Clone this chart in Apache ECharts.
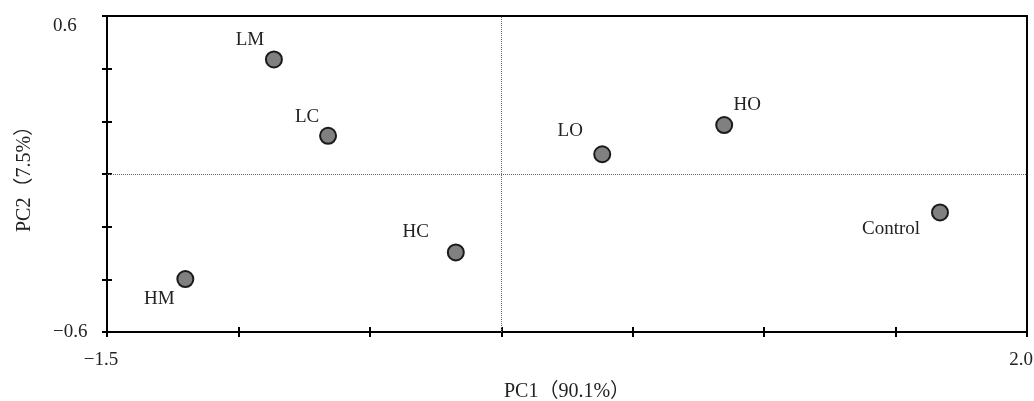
<!DOCTYPE html>
<html>
<head>
<meta charset="utf-8">
<script src="https://cdn.jsdelivr.net/npm/echarts@6/dist/echarts.min.js"></script>
<style>html,body{margin:0;padding:0;background:#fff;}#c{width:1034px;height:401px;}</style>
</head>
<body>
<div id="c"></div>
<script>
// Data
const samples = ['LM', 'LC', 'HM', 'HC', 'LO', 'HO', 'Control'];
const pc1 = [-0.865, -0.659, -1.202, -0.173, 0.384, 0.848, 1.669];
const pc2 = [0.435, 0.145, -0.399, -0.298, 0.075, 0.186, -0.146];
const xTickLabels = ['\u22121.5', '2.0'];
const yTickLabels = ['\u22120.6', '0.6'];
const xName = 'PC1\uFF0890.1%\uFF09';
const yName = 'PC2\uFF087.5%\uFF09';

// label placement (style)
const labelOffset = {
  LM: [-24, -19], LC: [-21, -19], HM: [-26, 20], HC: [-40, -20],
  LO: [-32, -23], HO: [23, -20], Control: [-49, 17]
};

const font = '"Liberation Serif", "Times New Roman", "Noto Sans CJK SC", serif';
const chart = echarts.init(document.getElementById('c'));

const points = samples.map((n, i) => ({
  name: n,
  value: [pc1[i], pc2[i]],
  label: { offset: labelOffset[n] }
}));

const xCommon = { type: 'value', min: -1.5, max: 2.0, interval: 0.5, splitLine: { show: false } };
const yCommon = { type: 'value', min: -0.6, max: 0.6, interval: 0.2, splitLine: { show: false } };

chart.setOption({
  animation: false,
  backgroundColor: '#fff',
  grid: { left: 107, right: 7, top: 16, bottom: 69, show: true, borderColor: '#000', borderWidth: 2,
          containLabel: false, outerBoundsMode: 'none' },
  xAxis: [
    Object.assign({}, xCommon, {
      position: 'bottom',
      name: xName, nameLocation: 'middle', nameGap: 50,
      nameTextStyle: { fontFamily: font, fontSize: 20, color: '#222' },
      axisLine: { show: true, onZero: false, lineStyle: { color: '#000', width: 2 } },
      axisTick: { show: true, inside: false, length: 5, lineStyle: { color: '#000', width: 2 } },
      axisLabel: {
        margin: 19, fontFamily: font, fontSize: 19, color: '#222', padding: [0, 12, 0, 0],
        formatter: v => (Math.abs(v - -1.5) < 1e-9 ? xTickLabels[0] : (Math.abs(v - 2.0) < 1e-9 ? xTickLabels[1] : ''))
      }
    }),
    Object.assign({}, xCommon, {
      position: 'bottom',
      axisLine: { show: false, onZero: false },
      axisTick: { show: true, inside: true, length: 5, lineStyle: { color: '#000', width: 2 } },
      axisLabel: { show: false }
    })
  ],
  yAxis: [
    Object.assign({}, yCommon, {
      position: 'left',
      name: yName, nameLocation: 'middle', nameGap: 72, nameRotate: 90,
      nameTextStyle: { fontFamily: font, fontSize: 20, color: '#222' },
      axisLine: { show: true, onZero: false, lineStyle: { color: '#000', width: 2 } },
      axisTick: { show: true, inside: false, length: 5, lineStyle: { color: '#000', width: 2 } },
      axisLabel: {
        margin: 54, align: 'left', fontFamily: font, fontSize: 19, color: '#222',
        formatter: v => (Math.abs(v - -0.6) < 1e-9 ? '{b|' + yTickLabels[0] + '}' : (Math.abs(v - 0.6) < 1e-9 ? '{t|' + yTickLabels[1] + '}' : '')),
        rich: {
          b: { fontFamily: font, fontSize: 19, color: '#222' },
          t: { fontFamily: font, fontSize: 19, color: '#222', padding: [20, 0, 0, 0] }
        }
      }
    }),
    Object.assign({}, yCommon, {
      position: 'left',
      axisLine: { show: false, onZero: false },
      axisTick: { show: true, inside: true, length: 5, lineStyle: { color: '#000', width: 2 } },
      axisLabel: { show: false }
    })
  ],
  series: [{
    type: 'scatter',
    xAxisIndex: 0, yAxisIndex: 0,
    data: points,
    symbol: 'circle',
    symbolSize: 16,
    itemStyle: { color: '#808080', borderColor: '#1a1a1a', borderWidth: 2, opacity: 1 },
    label: {
      show: true, position: 'inside', formatter: '{b}',
      fontFamily: font, fontSize: 19, color: '#222', align: 'center', verticalAlign: 'middle'
    },
    emphasis: { disabled: true },
    markLine: {
      silent: true, symbol: 'none', animation: false,
      label: { show: false },
      lineStyle: { color: '#666', width: 1, type: 'dotted' },
      data: [{ xAxis: 0 }, { yAxis: 0 }]
    },
    z: 5
  }]
});
</script>
</body>
</html>
